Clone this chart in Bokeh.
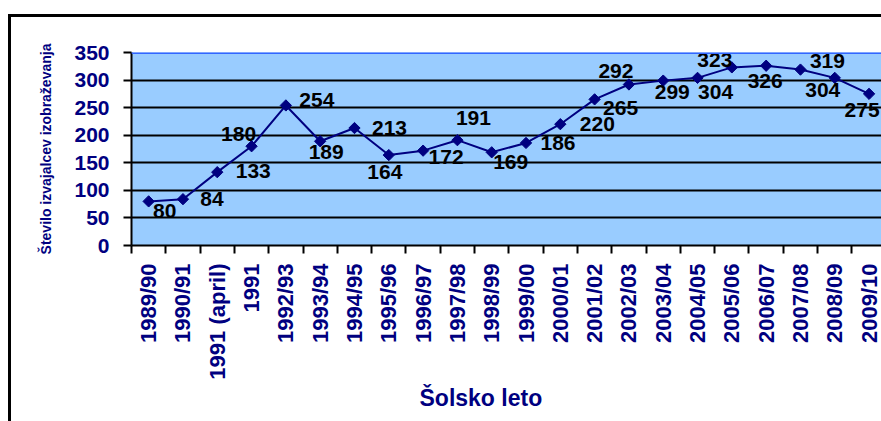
import math
from bokeh.plotting import figure
from bokeh.models import FixedTicker, Span, Title, ColumnDataSource, Range1d
from bokeh.embed import file_html
from bokeh.resources import INLINE
from bokeh.core.properties import value

categories = ["1989/90", "1990/91", "1991 (april)", "1991", "1992/93", "1993/94",
              "1994/95", "1995/96", "1996/97", "1997/98", "1998/99", "1999/00",
              "2000/01", "2001/02", "2002/03", "2003/04", "2004/05", "2005/06",
              "2006/07", "2007/08", "2008/09", "2009/10"]
values = [80, 84, 133, 180, 254, 189, 213, 164, 172, 191, 169, 186,
          220, 265, 292, 299, 304, 323, 326, 319, 304, 275]
y_ticks = [0, 50, 100, 150, 200, 250, 300, 350]

# data-label placement (screen px offsets from each point)
label_dx = [16, 29, 36, -13, 31, 6, 35, -4, 23, 16, 19, 32, 37, 26, -13, 9, 18, -17, -1, 27, -12, -7]
label_dy = [10, 0, -1, -12, -5, 11, 0, 17, 6, -22, 10, 0, 0, 9, -13, 11, 14, -7, 15, -9, 12, 16]

NAVY = "#000080"
FONT = "Liberation Sans"

idx = list(range(len(categories)))
src = ColumnDataSource(dict(x=idx, y=values, t=[str(v) for v in values],
                            dx=label_dx, dy=label_dy))

p = figure(width=870, height=404, output_backend="svg", toolbar_location=None,
           x_range=Range1d(-0.5, 21.45), y_range=Range1d(0, 350),
           min_border_left=120, min_border_right=0, min_border_top=35,
           min_border_bottom=179)
p.background_fill_color = "#99CCFF"
p.border_fill_color = "white"
p.outline_line_color = None
p.styles = {"box-sizing": "content-box", "margin-left": "8px", "margin-top": "14px",
            "border-left": "3px solid black", "border-top": "3px solid black"}

# x axis
xa = p.xaxis[0]
xa.ticker = FixedTicker(ticks=idx, minor_ticks=[i - 0.5 for i in range(len(categories) + 1)])
xa.major_label_overrides = {i: c for i, c in zip(idx, categories)}
xa.major_tick_line_color = None
xa.major_tick_out = 8
xa.major_tick_in = 0
xa.minor_tick_line_color = "black"
xa.minor_tick_line_width = 2
xa.minor_tick_out = 8
xa.minor_tick_in = 0
xa.axis_line_color = "black"
xa.axis_line_width = 2
xa.major_label_orientation = math.pi / 2
xa.major_label_standoff = 10
xa.major_label_text_font = FONT
xa.major_label_text_font_style = "bold"
xa.major_label_text_font_size = "22px"
xa.major_label_text_color = NAVY

# y axis
ya = p.yaxis[0]
ya.ticker = FixedTicker(ticks=y_ticks)
ya.minor_tick_line_color = None
ya.major_tick_out = 8
ya.major_tick_in = 0
ya.major_tick_line_width = 2
ya.major_tick_line_color = "black"
ya.axis_line_color = "black"
ya.axis_line_width = 2
ya.major_label_standoff = 14
ya.major_label_text_font = FONT
ya.major_label_text_font_style = "bold"
ya.major_label_text_font_size = "21px"
ya.major_label_text_color = NAVY
ya.axis_label = "Število izvajalcev izobraževanja"
ya.axis_label_text_font = FONT
ya.axis_label_text_font_style = "bold"
ya.axis_label_text_font_size = "14px"
ya.axis_label_text_color = NAVY
ya.axis_label_standoff = 17

p.xgrid.visible = False
p.ygrid.ticker = FixedTicker(ticks=y_ticks[1:-1])
p.ygrid.grid_line_color = "black"
p.ygrid.grid_line_width = 2

p.add_layout(Span(location=350, dimension="width", line_color="#3366FF", line_width=3))

p.line("x", "y", source=src, line_color=NAVY, line_width=2)
p.scatter("x", "y", source=src, marker="square", angle=math.pi / 4, size=8,
          fill_color=NAVY, line_color=NAVY)
p.text("x", "y", text="t", source=src, x_offset="dx", y_offset="dy",
       text_font=value(FONT), text_font_style="bold", text_font_size="21px",
       text_align="center", text_baseline="middle", text_color="black")

p.add_layout(Title(text="Šolsko leto", align="left", offset=288, standoff=1,
                   text_font=FONT, text_font_style="bold", text_font_size="23px",
                   text_color=NAVY), "below")

with open("out.html", "w", encoding="utf-8") as f:
    f.write(file_html(p, INLINE))
